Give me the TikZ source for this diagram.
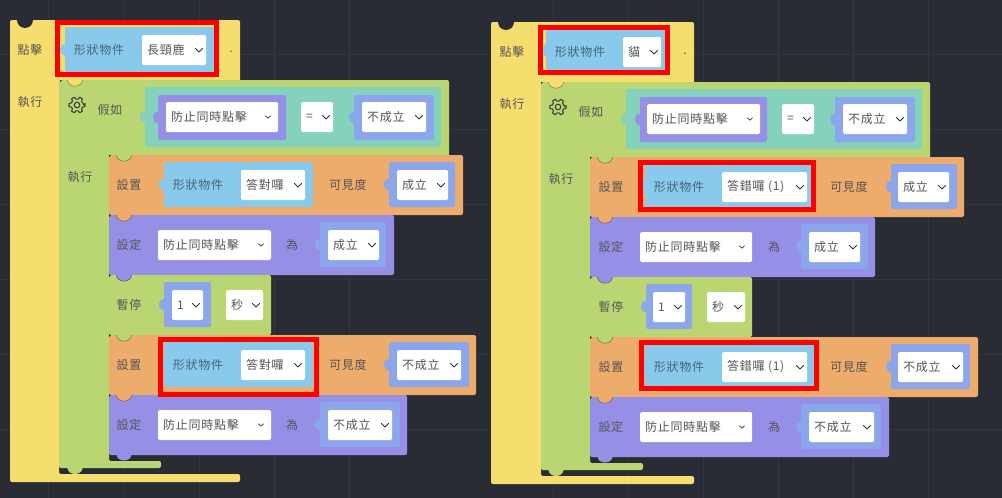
\documentclass[tikz,border=0pt]{standalone}
\usepackage{fontspec}
\newfontfamily\cjk[LetterSpace=6]{Noto Sans CJK TC}
\definecolor{bgc}{HTML}{292C35}
\definecolor{gridc}{HTML}{33363F}
\definecolor{yel}{HTML}{F5DD6E}
\definecolor{grn}{HTML}{BAD672}
\definecolor{tea}{HTML}{84D1BC}
\definecolor{pur}{HTML}{958FE6}
\definecolor{blu}{HTML}{8BA6EA}
\definecolor{org}{HTML}{EDAB6C}
\definecolor{sky}{HTML}{88C9EC}
\definecolor{txt}{HTML}{555555}
\definecolor{txtb}{HTML}{4A6478}
\tikzset{
  blockbox/.style={rounded corners=2pt},
  lab/.style={inner sep=0pt,font=\cjk\fontsize{12}{12}\selectfont,text=txt,anchor=center},
  optlab/.style={inner sep=0pt,font=\cjk\fontsize{12}{12}\selectfont,text=#1,anchor=west},
  chev/.style={draw=#1,line width=1pt,line cap=round,line join=round},
  redbox/.style={draw=red,line width=5pt,fill=none},
}
\newcount\nn
\newcommand{\blk}[5]{\fill[#1,blockbox] (#2,#3) rectangle (#4,#5);}
% block with a small tab on its left edge
\newcommand{\tabblk}[5]{\fill[#1] (#2,{(#3+#5)/2}) ellipse (5 and 6);\fill[#1,blockbox] (#2,#3) rectangle (#4,#5);}
\newcommand{\notch}[3]{\begin{scope}\clip (#1-9,#2) rectangle (#1+9,#2+9);
  \filldraw[#3,draw=black!55!#3,line width=.4pt] (#1,#2) ellipse (7.5 and 6.2);\end{scope}
  \fill[black!80] (#1-15,#2) -- (#1-13,#2) -- (#1-15,#2+2) -- cycle;}
\newcommand{\bump}[3]{\fill[#3] (#1,#2) ellipse (7.5 and 6);}
\newcommand{\lbl}[3]{\global\advance\nn by 1 \node[lab] (n\the\nn) at (#1,#2) {#3};}
\newcommand{\lblb}[3]{\global\advance\nn by 1 \node[lab,text=txtb] (n\the\nn) at (#1,#2) {#3};}
% big chevron dropdown
\newcommand{\dd}[4]{\global\advance\nn by 1
  \fill[white,rounded corners=1.5pt] (#1,#2) rectangle (#3,#2+30);
  \node[optlab=txt] (n\the\nn) at (#1+5,#2+15) {#4};
  \draw[chev=black!80] (#3-10.5,#2+13.5) -- (#3-7,#2+17) -- (#3-3.5,#2+13.5);}
% small chevron dropdown, set further from the edge
\newcommand{\dds}[5]{\global\advance\nn by 1
  \fill[white,rounded corners=1.5pt] (#1,#2) rectangle (#3,#2+30);
  \node[optlab=txt] (n\the\nn) at (#1+5,#2+15) {#5};
  \draw[chev=black!70,line width=.8pt] (#3-#4-2.5,#2+13.8) -- (#3-#4,#2+16.2) -- (#3-#4+2.5,#2+13.8);}
\newcommand{\gear}[2]{\draw[black!75,line width=1.1pt,line join=round] (#1,#2) circle (2.8);
  \draw[black!75,line width=1.1pt,line join=round,shift={(#1,#2)}]
   (0:7) \foreach \a in {0,60,...,300}{ -- (\a-11:8.2) -- (\a+11:8.2) -- (\a+20:6) -- (\a+40:6)} -- cycle;}
\begin{document}
\begin{tikzpicture}[x=1pt,y=-1pt]
\useasboundingbox (0,0) rectangle (1002,498);
\fill[bgc] (0,0) rectangle (1002,498);
% grid
\foreach \x in {48,123,199,274,349,553,628,703,778,853,928}{\draw[gridc,line width=.5pt] (\x,0) -- (\x,498);}
\foreach \y in {54,129,204,279,354,429}{\draw[gridc,line width=.5pt] (0,\y) -- (1002,\y);}

%%%%%%% LEFT
\fill[yel,blockbox] (10,20) -- (240,20) -- (240,85) -- (59,85) -- (59,474) -- (240,474) -- (240,482) -- (10,482) -- cycle;
\begin{scope}\clip (10,20) rectangle (40,30);\fill[bgc] (25,20) circle (8);\end{scope}
\lbl{30}{50}{點擊}\lbl{30}{102}{執行}
\tabblk{sky}{65}{27}{214}{72}
\lblb{99}{50}{形狀物件}
\dd{142}{35}{206}{長頸鹿}
\node[lab] (dotl) at (231,52) {.};
\bump{75}{468}{grn}
\fill[grn,blockbox] (59,80) -- (449,80) -- (449,160) -- (109,160) -- (109,461) -- (161,461) -- (161,468) -- (59,468) -- cycle;
\notch{75}{80}{yel}
\gear{77}{105}
\lbl{110}{110}{假如}\lbl{80}{177}{執行}
\tabblk{tea}{145}{87}{441}{147}
\tabblk{pur}{158}{95}{286}{140}
\dds{166}{102}{278}{10}{防止同時點擊}
\dd{301}{102}{333}{=}
\tabblk{blu}{354}{95}{434}{140}
\dd{362}{102}{426}{不成立}
% orange 1
\blk{org}{109}{155}{463}{215}\notch{124}{155}{grn}
\lbl{129}{185}{設置}
\tabblk{sky}{164}{162}{313}{207}\lblb{198}{185}{形狀物件}
\dd{241}{170}{305}{答對囉}
\lbl{348}{185}{可見度}
\tabblk{blu}{389}{162}{455}{207}
\dd{397}{170}{448}{成立}
% purple 1
\blk{pur}{109}{215}{394}{275}\notch{124}{215}{org}
\lbl{129}{245}{設定}
\dds{158}{230}{271}{10}{防止同時點擊}
\lbl{292}{245}{為}
\tabblk{blu}{320}{222}{386}{267}
\dd{328}{230}{379}{成立}
% pause
\blk{grn}{109}{275}{271}{335}\notch{124}{275}{pur}
\lbl{129}{305}{暫停}
\tabblk{blu}{164}{282}{211}{327}
\dd{172}{290}{203}{1}
\dd{226}{290}{263}{秒}
% orange 2
\blk{org}{109}{335}{476}{395}\notch{124}{335}{grn}
\lbl{129}{365}{設置}
\tabblk{sky}{164}{342}{313}{387}\lblb{198}{365}{形狀物件}
\dd{241}{350}{305}{答對囉}
\lbl{348}{365}{可見度}
\tabblk{blu}{389}{342}{469}{387}
\dd{397}{350}{461}{不成立}
% purple 2
\blk{pur}{109}{395}{407}{455}\notch{124}{395}{org}
\lbl{129}{425}{設定}
\dds{158}{410}{271}{10}{防止同時點擊}
\lbl{292}{425}{為}
\tabblk{blu}{320}{402}{400}{447}
\dd{328}{410}{392}{不成立}
\bump{124}{454.5}{pur}
% red boxes
\draw[redbox] (57.5,22.5) rectangle (216.5,74.5);
\draw[redbox] (160.5,339.5) rectangle (316.5,394.5);

%%%%%%% RIGHT
\fill[yel,blockbox] (491,22) -- (694,22) -- (694,87) -- (541,87) -- (541,476) -- (694,476) -- (694,484) -- (491,484) -- cycle;
\begin{scope}\clip (491,22) rectangle (521,32);\fill[bgc] (506,22) circle (8);\end{scope}
\lbl{512}{52}{點擊}\lbl{512}{104}{執行}
\tabblk{sky}{546}{30}{665}{70}
\lblb{580}{52}{形狀物件}
\dd{623}{37}{661}{貓}
\node[lab] (dotr) at (685,54) {.};
\bump{556}{470}{grn}
\fill[grn,blockbox] (541,82) -- (930,82) -- (930,162) -- (590,162) -- (590,463) -- (643,463) -- (643,470) -- (541,470) -- cycle;
\notch{556}{82}{yel}
\gear{558}{107}
\lbl{591}{112}{假如}\lbl{561}{179}{執行}
\tabblk{tea}{626}{89}{922}{149}
\tabblk{pur}{640}{97}{767}{142}
\dds{647}{104}{760}{10}{防止同時點擊}
\dd{782}{104}{814}{=}
\tabblk{blu}{835}{97}{915}{142}
\dd{843}{104}{907}{不成立}
% orange 1
\blk{org}{590}{157}{964}{217}\notch{605}{157}{grn}
\lbl{611}{187}{設置}
\tabblk{sky}{645}{164}{811}{209}\lblb{679}{187}{形狀物件}
\dd{722}{172}{807}{答錯囉 (1)}
\lbl{849}{187}{可見度}
\tabblk{blu}{891}{164}{957}{209}
\dd{898}{172}{949}{成立}
% purple 1
\blk{pur}{590}{217}{875}{277}\notch{605}{217}{org}
\lbl{611}{247}{設定}
\dds{640}{232}{752}{10}{防止同時點擊}
\lbl{774}{247}{為}
\tabblk{blu}{801}{224}{868}{269}
\dd{809}{232}{860}{成立}
% pause
\blk{grn}{590}{277}{752}{337}\notch{605}{277}{pur}
\lbl{611}{307}{暫停}
\tabblk{blu}{646}{284}{692}{329}
\dd{653}{292}{685}{1}
\dd{707}{292}{745}{秒}
% orange 2
\blk{org}{590}{337}{978}{397}\notch{605}{337}{grn}
\lbl{611}{367}{設置}
\tabblk{sky}{645}{344}{814}{389}\lblb{679}{367}{形狀物件}
\dd{722}{352}{807}{答錯囉 (1)}
\lbl{849}{367}{可見度}
\tabblk{blu}{891}{344}{970}{389}
\dd{898}{352}{963}{不成立}
% purple 2
\blk{pur}{590}{397}{889}{457}\notch{605}{397}{org}
\lbl{611}{427}{設定}
\dds{640}{412}{752}{10}{防止同時點擊}
\lbl{774}{427}{為}
\tabblk{blu}{801}{404}{881}{449}
\dd{809}{412}{874}{不成立}
\bump{605}{456.5}{pur}
% red boxes
\draw[redbox] (540.5,27.5) rectangle (667.5,72.5);
\draw[redbox] (640.5,162.5) rectangle (813.5,209.5);
\draw[redbox] (641.5,342.5) rectangle (816.5,388.5);
\end{tikzpicture}
\end{document}
